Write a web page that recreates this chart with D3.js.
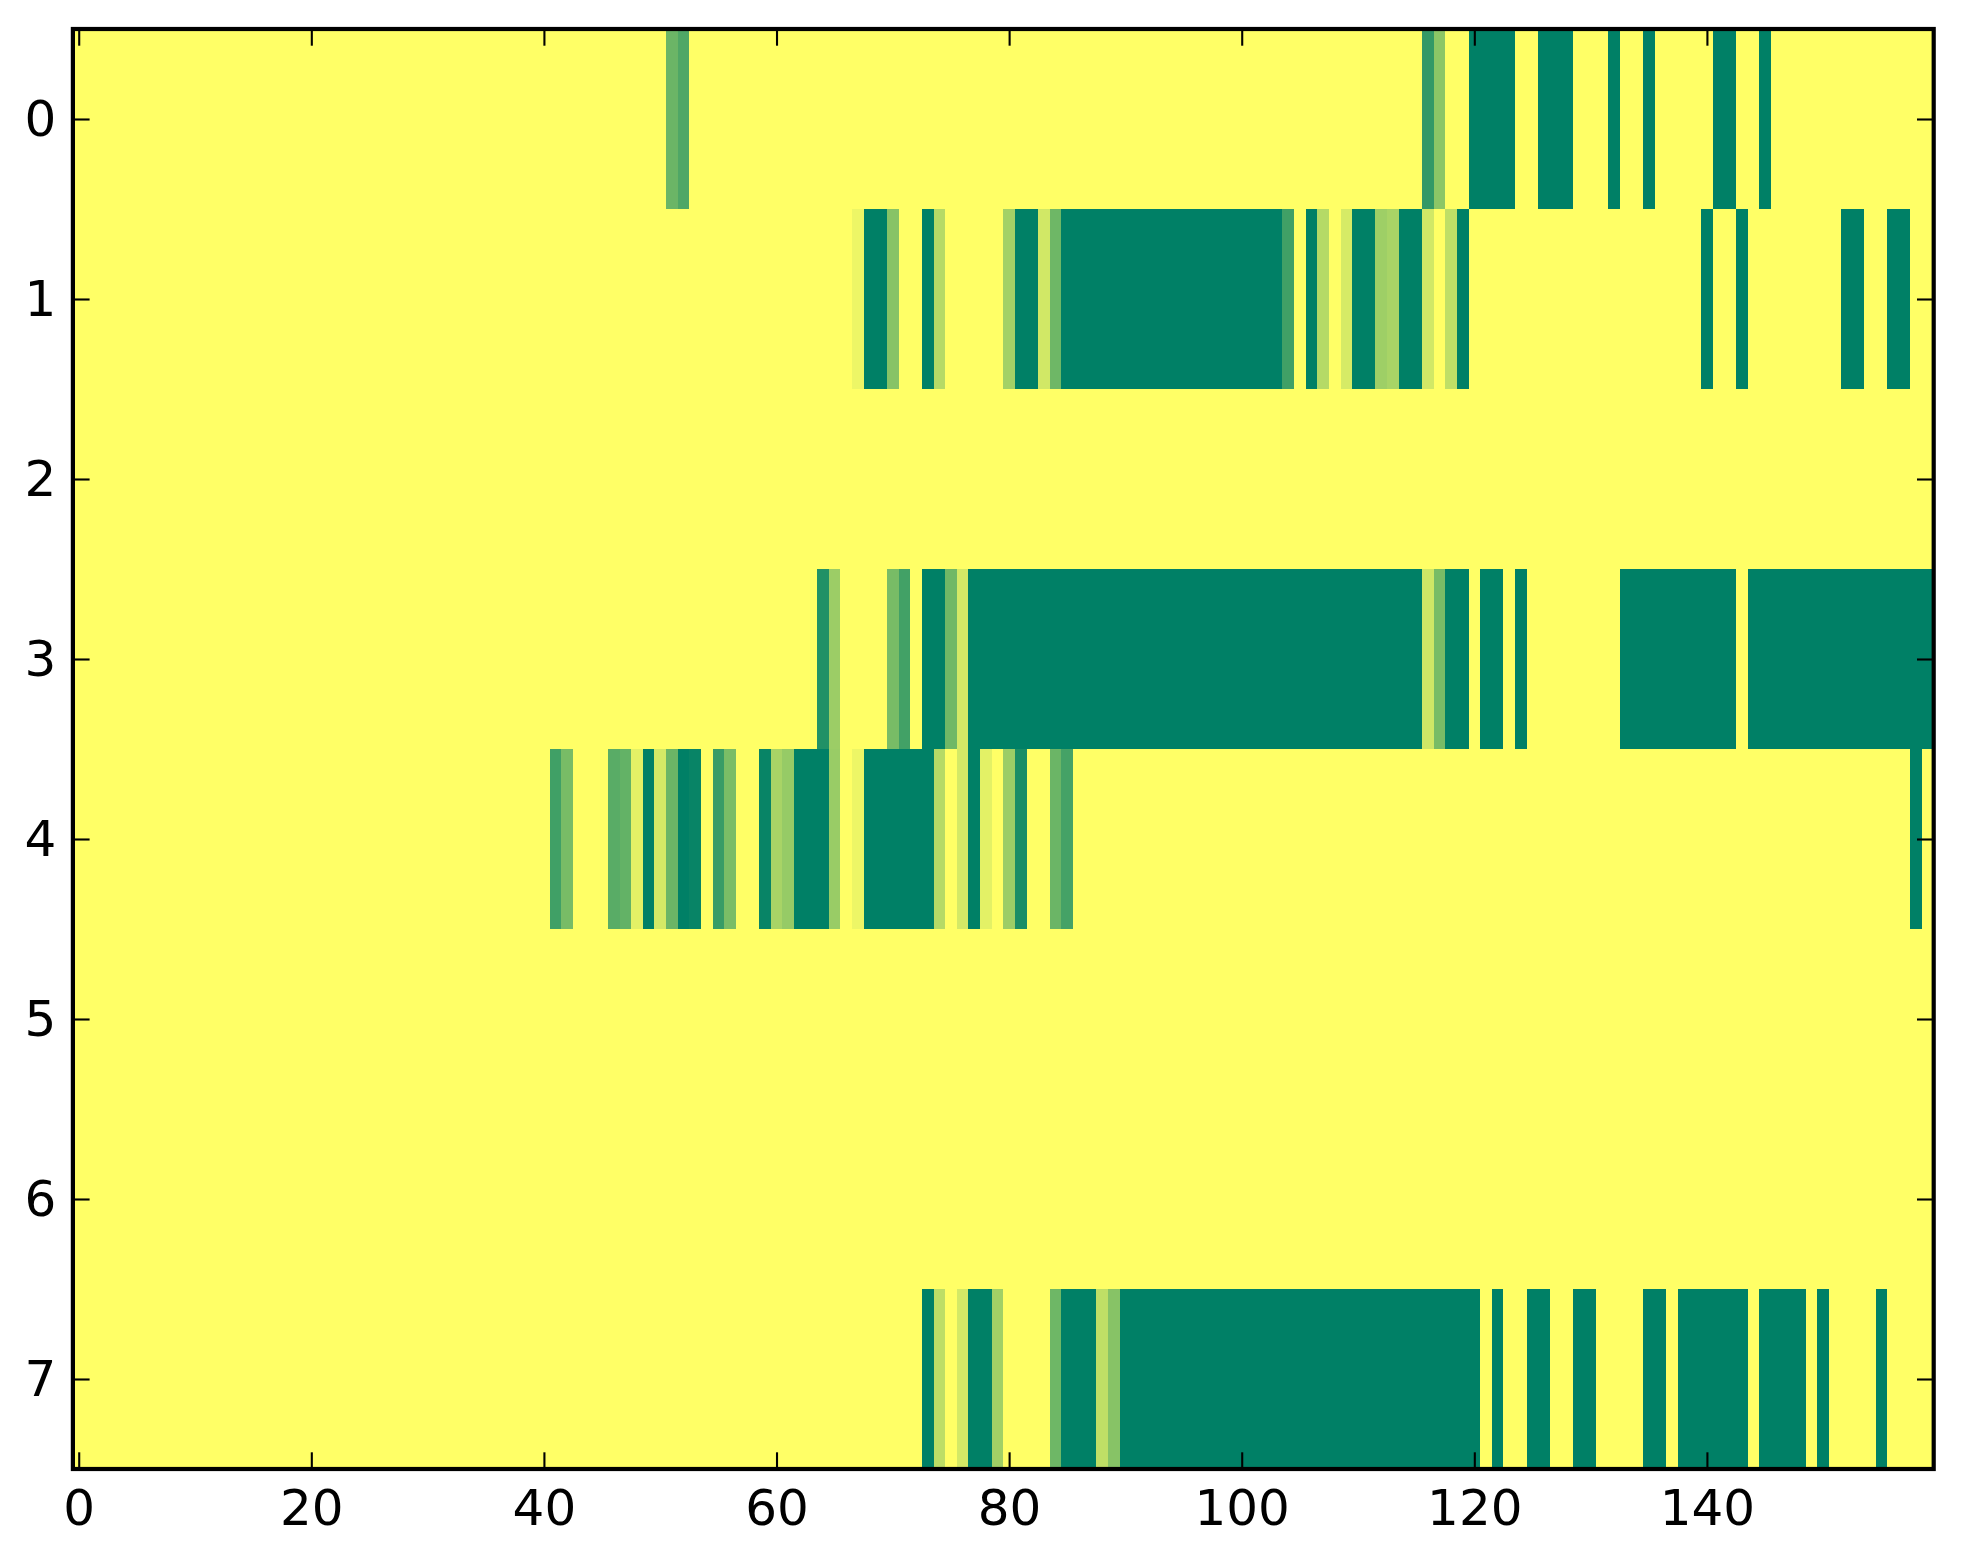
<!DOCTYPE html>
<html>
<head>
<meta charset="utf-8">
<script src="https://cdn.jsdelivr.net/npm/d3@7"></script>
<style>
  body { margin: 0; background: #fff; }
  .axis text { font-family: "DejaVu Sans", sans-serif; font-size: 50px; fill: #000; }
  .axis line { stroke: #000; stroke-width: 2.1; }
  .axis path { display: none; }
</style>
</head>
<body>
<svg id="chart"></svg>
<script>
// one array per image row, 160 columns each (0 = yellow, 1 = dark green)
const row0 = [
  0,0,0,0,0,0,0,0,0,0, 0,0,0,0,0,0,0,0,0,0,
  0,0,0,0,0,0,0,0,0,0, 0,0,0,0,0,0,0,0,0,0,
  0,0,0,0,0,0,0,0,0,0, 0,.58,.69,0,0,0,0,0,0,0,
  0,0,0,0,0,0,0,0,0,0, 0,0,0,0,0,0,0,0,0,0,
  0,0,0,0,0,0,0,0,0,0, 0,0,0,0,0,0,0,0,0,0,
  0,0,0,0,0,0,0,0,0,0, 0,0,0,0,0,0,.8,.45,0,0,
  1,1,1,1,0,0,1,1,1,0, 0,0,1,0,0,1,0,0,0,0,
  0,1,1,0,0,1,0,0,0,0, 0,0,0,0,0,0,0,0,0,0
];
const row1 = [
  0,0,0,0,0,0,0,0,0,0, 0,0,0,0,0,0,0,0,0,0,
  0,0,0,0,0,0,0,0,0,0, 0,0,0,0,0,0,0,0,0,0,
  0,0,0,0,0,0,0,0,0,0, 0,0,0,0,0,0,0,0,0,0,
  0,0,0,0,0,0,0,.07,1,1, .47,0,0,1,.29,0,0,0,0,0,
  .36,1,1,.18,.57,1,1,1,1,1, 1,1,1,1,1,1,1,1,1,1,
  1,1,1,1,.75,0,1,.29,0,.16, 1,1,.38,.34,1,1,.18,0,.25,1,
  0,0,0,0,0,0,0,0,0,0, 0,0,0,0,0,0,0,0,0,0,
  1,0,0,1,0,0,0,0,0,0, 0,0,1,1,0,0,1,1,0,0
];
const row2 = [
  0,0,0,0,0,0,0,0,0,0, 0,0,0,0,0,0,0,0,0,0,
  0,0,0,0,0,0,0,0,0,0, 0,0,0,0,0,0,0,0,0,0,
  0,0,0,0,0,0,0,0,0,0, 0,0,0,0,0,0,0,0,0,0,
  0,0,0,0,0,0,0,0,0,0, 0,0,0,0,0,0,0,0,0,0,
  0,0,0,0,0,0,0,0,0,0, 0,0,0,0,0,0,0,0,0,0,
  0,0,0,0,0,0,0,0,0,0, 0,0,0,0,0,0,0,0,0,0,
  0,0,0,0,0,0,0,0,0,0, 0,0,0,0,0,0,0,0,0,0,
  0,0,0,0,0,0,0,0,0,0, 0,0,0,0,0,0,0,0,0,0
];
const row3 = [
  0,0,0,0,0,0,0,0,0,0, 0,0,0,0,0,0,0,0,0,0,
  0,0,0,0,0,0,0,0,0,0, 0,0,0,0,0,0,0,0,0,0,
  0,0,0,0,0,0,0,0,0,0, 0,0,0,0,0,0,0,0,0,0,
  0,0,0,0,.87,.39,0,0,0,0, .53,.74,0,1,1,.56,.17,1,1,1,
  1,1,1,1,1,1,1,1,1,1, 1,1,1,1,1,1,1,1,1,1,
  1,1,1,1,1,1,1,1,1,1, 1,1,1,1,1,1,.19,.53,1,1,
  0,1,1,0,1,0,0,0,0,0, 0,0,0,1,1,1,1,1,1,1,
  1,1,1,0,1,1,1,1,1,1, 1,1,1,1,1,1,1,1,1,1
];
const row4 = [
  0,0,0,0,0,0,0,0,0,0, 0,0,0,0,0,0,0,0,0,0,
  0,0,0,0,0,0,0,0,0,0, 0,0,0,0,0,0,0,0,0,0,
  0,.75,.53,0,0,0,.65,.61,.11,1, .17,.58,1,.97,0,.78,.52,0,0,.97,
  .34,.41,1,1,1,.4,0,.07,1,1, 1,1,1,1,.29,0,.17,1,.11,0,
  .39,.9,0,0,.58,.73,0,0,0,0, 0,0,0,0,0,0,0,0,0,0,
  0,0,0,0,0,0,0,0,0,0, 0,0,0,0,0,0,0,0,0,0,
  0,0,0,0,0,0,0,0,0,0, 0,0,0,0,0,0,0,0,0,0,
  0,0,0,0,0,0,0,0,0,0, 0,0,0,0,0,0,0,0,1,0
];
const row5 = [
  0,0,0,0,0,0,0,0,0,0, 0,0,0,0,0,0,0,0,0,0,
  0,0,0,0,0,0,0,0,0,0, 0,0,0,0,0,0,0,0,0,0,
  0,0,0,0,0,0,0,0,0,0, 0,0,0,0,0,0,0,0,0,0,
  0,0,0,0,0,0,0,0,0,0, 0,0,0,0,0,0,0,0,0,0,
  0,0,0,0,0,0,0,0,0,0, 0,0,0,0,0,0,0,0,0,0,
  0,0,0,0,0,0,0,0,0,0, 0,0,0,0,0,0,0,0,0,0,
  0,0,0,0,0,0,0,0,0,0, 0,0,0,0,0,0,0,0,0,0,
  0,0,0,0,0,0,0,0,0,0, 0,0,0,0,0,0,0,0,0,0
];
const row6 = [
  0,0,0,0,0,0,0,0,0,0, 0,0,0,0,0,0,0,0,0,0,
  0,0,0,0,0,0,0,0,0,0, 0,0,0,0,0,0,0,0,0,0,
  0,0,0,0,0,0,0,0,0,0, 0,0,0,0,0,0,0,0,0,0,
  0,0,0,0,0,0,0,0,0,0, 0,0,0,0,0,0,0,0,0,0,
  0,0,0,0,0,0,0,0,0,0, 0,0,0,0,0,0,0,0,0,0,
  0,0,0,0,0,0,0,0,0,0, 0,0,0,0,0,0,0,0,0,0,
  0,0,0,0,0,0,0,0,0,0, 0,0,0,0,0,0,0,0,0,0,
  0,0,0,0,0,0,0,0,0,0, 0,0,0,0,0,0,0,0,0,0
];
const row7 = [
  0,0,0,0,0,0,0,0,0,0, 0,0,0,0,0,0,0,0,0,0,
  0,0,0,0,0,0,0,0,0,0, 0,0,0,0,0,0,0,0,0,0,
  0,0,0,0,0,0,0,0,0,0, 0,0,0,0,0,0,0,0,0,0,
  0,0,0,0,0,0,0,0,0,0, 0,0,0,1,.26,0,.17,1,1,.37,
  0,0,0,0,.57,1,1,1,.25,.47, 1,1,1,1,1,1,1,1,1,1,
  1,1,1,1,1,1,1,1,1,1, 1,1,1,1,1,1,1,1,1,1,
  1,0,1,0,0,1,1,0,0,1, 1,0,0,0,0,1,1,0,1,1,
  1,1,1,1,0,1,1,1,1,0, 1,0,0,0,0,1,0,0,0,0
];
const rows = [row0, row1, row2, row3, row4, row5, row6, row7];
const xTicks = [0, 20, 40, 60, 80, 100, 120, 140];
const yTicks = [0, 1, 2, 3, 4, 5, 6, 7];

const width = 1963;
const height = 1564;
const plot = { left: 72.9, right: 1933.7, top: 29, bottom: 1469 };
const nCols = row0.length;

const svg = d3
  .select("#chart")
  .attr("width", width)
  .attr("height", height);

const xScale = d3
  .scaleLinear()
  .domain([-0.5, nCols - 0.5])
  .range([plot.left, plot.right]);

const yScale = d3
  .scaleLinear()
  .domain([-0.5, rows.length - 0.5])
  .range([plot.top, plot.bottom]);

// summer_r: yellow at 0, teal green at 1
const colorScale = d3.scaleLinear().domain([0, 1]).range(["#ffff66", "#008066"]);

const cells = rows.flatMap((vals, r) => vals.map((v, c) => ({ r, c, v })));

svg
  .append("g")
  .selectAll("rect")
  .data(cells)
  .enter()
  .append("rect")
  .attr("x", (d) => xScale(d.c - 0.5))
  .attr("y", (d) => yScale(d.r - 0.5))
  .attr("width", (d) => xScale(d.c + 0.5) - xScale(d.c - 0.5) + 0.4)
  .attr("height", (d) => yScale(d.r + 0.5) - yScale(d.r - 0.5) + 0.4)
  .attr("fill", (d) => colorScale(d.v))
  .attr("shape-rendering", "crispEdges");

const tickLen = 16.7;

svg
  .append("g")
  .attr("class", "axis")
  .attr("transform", `translate(0,${plot.bottom})`)
  .call(d3.axisBottom(xScale).tickValues(xTicks).tickSize(-tickLen).tickSizeOuter(0).tickPadding(20));

svg
  .append("g")
  .attr("class", "axis")
  .attr("transform", `translate(0,${plot.top})`)
  .call(d3.axisTop(xScale).tickValues(xTicks).tickSize(-tickLen).tickSizeOuter(0).tickFormat(""));

svg
  .append("g")
  .attr("class", "axis")
  .attr("transform", `translate(${plot.left},0)`)
  .call(d3.axisLeft(yScale).tickValues(yTicks).tickSize(-tickLen).tickSizeOuter(0).tickPadding(16.7));

svg
  .append("g")
  .attr("class", "axis")
  .attr("transform", `translate(${plot.right},0)`)
  .call(d3.axisRight(yScale).tickValues(yTicks).tickSize(-tickLen).tickSizeOuter(0).tickFormat(""));

// frame
svg
  .append("rect")
  .attr("x", plot.left)
  .attr("y", plot.top)
  .attr("width", plot.right - plot.left)
  .attr("height", plot.bottom - plot.top)
  .attr("fill", "none")
  .attr("stroke", "#000")
  .attr("stroke-width", 4.2);
</script>
</body>
</html>
